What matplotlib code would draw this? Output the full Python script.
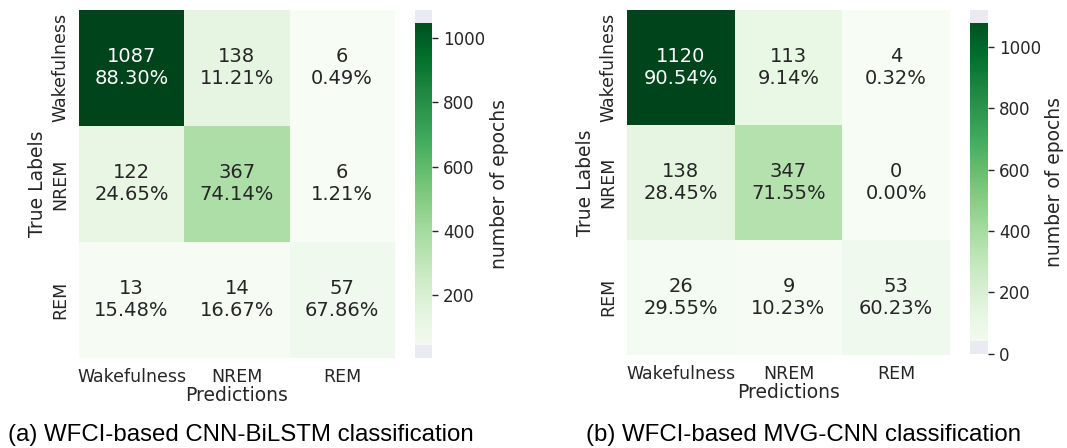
import numpy as np
import matplotlib
matplotlib.use("Agg")
import matplotlib.pyplot as plt
from matplotlib.patches import Rectangle
import seaborn as sns

sns.set_theme(style="darkgrid")
plt.rcParams['font.family'] = ['DejaVu Sans']

labels = ['Wakefulness', 'NREM', 'REM']

# confusion matrices (rows = true, cols = predicted)
cm_bilstm = np.array([[1087, 138, 6],
                      [122, 367, 6],
                      [13, 14, 57]])
cm_mvg = np.array([[1120, 113, 4],
                   [138, 347, 0],
                   [26, 9, 53]])

captions = ['(a) WFCI-based CNN-BiLSTM classification',
            '(b) WFCI-based MVG-CNN classification']

fig = plt.figure(figsize=(10.67, 4.48), dpi=100)

layout = [
    # heatmap axes, colorbar axes, caption x
    ([0.074, 0.201, 0.296, 0.777], [0.389, 0.201, 0.016, 0.777], 0.226),
    ([0.5876, 0.208, 0.3027, 0.770], [0.909, 0.210, 0.017, 0.768], 0.753),
]

for cm, cap, (hpos, cpos, cx) in zip([cm_bilstm, cm_mvg], captions, layout):
    ax = fig.add_axes(hpos)
    cax = fig.add_axes(cpos)
    pct = cm / cm.sum(axis=1, keepdims=True) * 100
    annot = np.array([[f"{cm[i, j]}\n{pct[i, j]:.2f}%" for j in range(3)]
                      for i in range(3)])
    sns.heatmap(cm, annot=annot, fmt='', cmap='Greens', ax=ax, cbar_ax=cax,
                xticklabels=labels, yticklabels=labels,
                annot_kws={'fontsize': 14, 'linespacing': 1.2},
                cbar_kws={'label': 'number of epochs'})
    ax.tick_params(axis='both', labelsize=12.5, length=0, colors='#262626', pad=7)
    ax.set_yticklabels(labels, rotation=90, va='center')
    ax.set_xticklabels(labels, rotation=0)
    ax.set_xlabel('Predictions', fontsize=13.5, color='#262626', labelpad=0)
    ax.set_ylabel('True Labels', fontsize=13.5, color='#262626', labelpad=3)

    cax.tick_params(axis='y', labelsize=12, length=4, width=1, colors='#262626',
                    right=True, pad=4)
    cax.yaxis.label.set_size(13.5)
    cax.yaxis.label.set_color('#262626')
    cax.yaxis.labelpad = 3
    # grey caps at both ends of the colour bar
    for y0 in (0.0, 0.963):
        cax.add_patch(Rectangle((0, y0), 1, 0.037, transform=cax.transAxes,
                                facecolor='#EAEAF2', edgecolor='none', zorder=5))

    fig.text(cx, 0.029, cap, ha='center', va='center', fontsize=17.3,
             family='Liberation Sans', color='black')

fig.savefig('out.png', dpi=100)
